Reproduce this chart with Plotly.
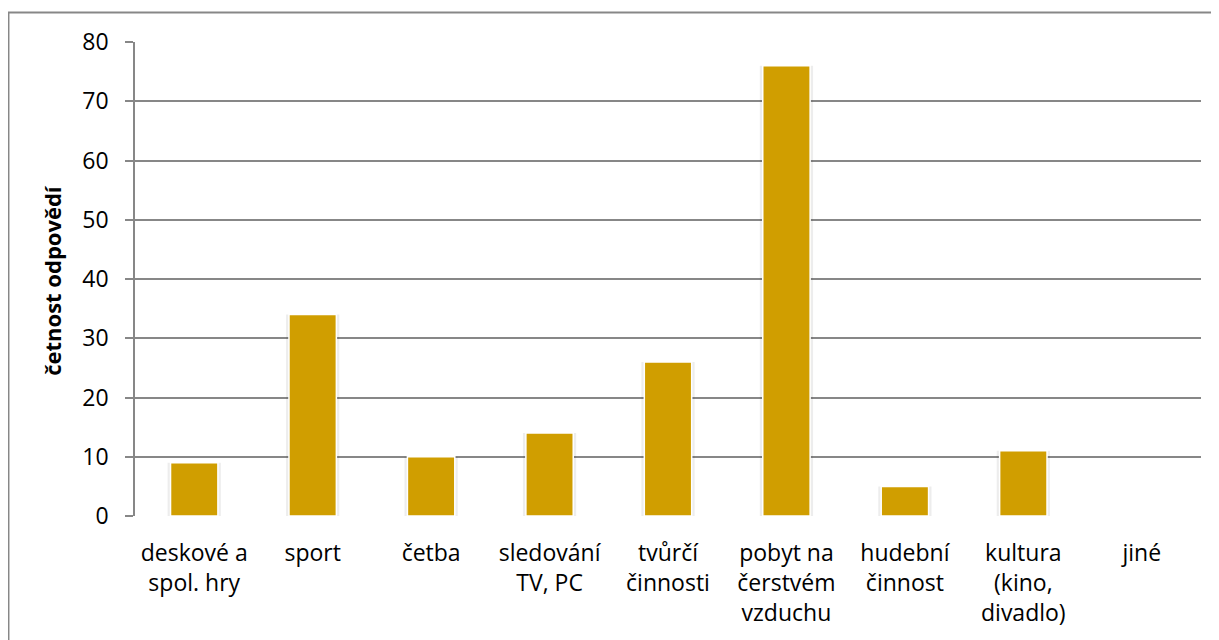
import plotly.graph_objects as go

CATEGORIES = [
    "deskové a<br>spol. hry",
    "sport",
    "četba",
    "sledování<br>TV, PC",
    "tvůrčí<br>činnosti",
    "pobyt na<br>čerstvém<br>vzduchu",
    "hudební<br>činnost",
    "kultura<br>(kino,<br>divadlo)",
    "jiné",
]
COUNTS = [9, 34, 10, 14, 26, 76, 5, 11, 0]
Y_TICKS = [0, 10, 20, 30, 40, 50, 60, 70, 80]

BAR = "#D09E00"
GRID = "#878787"
TEXT = "#000000"
FONT = "Open Sans"

fig = go.Figure()
# faint shadow behind each bar
fig.add_trace(
    go.Bar(
        x=CATEGORIES,
        y=COUNTS,
        marker=dict(color="rgba(0,0,0,0.07)", line=dict(width=0)),
        width=0.45,
        hoverinfo="skip",
    )
)
fig.add_trace(
    go.Bar(
        x=CATEGORIES,
        y=COUNTS,
        marker=dict(color=BAR, line=dict(color="white", width=1.5)),
        width=0.4,
    )
)

fig.update_layout(
    width=1219,
    height=640,
    barmode="overlay",
    plot_bgcolor="white",
    paper_bgcolor="white",
    margin=dict(l=127, r=26, t=34, b=132),
    showlegend=False,
    font=dict(family=FONT, color=TEXT, size=22),
    xaxis=dict(
        showgrid=False,
        zeroline=False,
        showline=False,
        ticks="",
        tickfont=dict(size=23),
        ticklabelstandoff=21,
    ),
    yaxis=dict(
        range=[0, 80],
        tickvals=Y_TICKS,
        showgrid=True,
        gridcolor=GRID,
        gridwidth=1.5,
        zeroline=False,
        showline=True,
        linecolor=GRID,
        linewidth=1.5,
        ticks="outside",
        ticklen=8,
        tickcolor=GRID,
        tickwidth=1.5,
        tickfont=dict(size=23),
        ticklabelstandoff=12,
    ),
)

# y-axis title as annotation for exact placement
fig.add_annotation(
    text="<b>četnost odpovědí</b>",
    xref="paper",
    yref="paper",
    x=-0.078,
    y=0.498,
    xanchor="center",
    yanchor="middle",
    textangle=-90,
    showarrow=False,
    font=dict(size=22),
)

# chart border
fig.add_shape(
    type="rect",
    xref="paper",
    yref="paper",
    x0=-0.1187,
    x1=1.03,
    y0=-0.3,
    y1=1.0622,
    line=dict(color=GRID, width=2),
    layer="below",
)

fig.write_html("out.html")
